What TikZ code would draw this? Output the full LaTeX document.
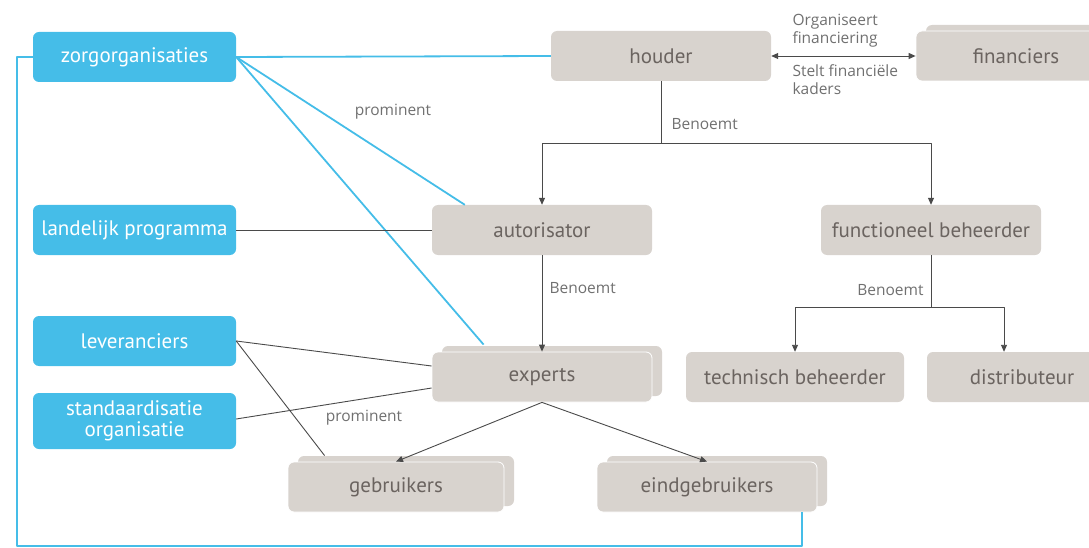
\documentclass[tikz,border=0pt]{standalone}
\usepackage{fontspec}
\setmainfont{PT Sans}
\newfontfamily\lblfont{Open Sans}
\usetikzlibrary{shadows,arrows.meta}
\definecolor{zorgblue}{HTML}{45BDE8}
\definecolor{boxgray}{HTML}{D8D3CE}
\definecolor{txtgray}{HTML}{6B6460}
\definecolor{lblgray}{HTML}{707070}
\definecolor{linegray}{HTML}{4A4A4A}
\begin{document}
\begin{tikzpicture}[x=1pt,y=-1pt,>={Triangle[length=7pt,width=6pt]},line join=round,
	rol/.style={fill=boxgray,rounded corners=6pt,minimum width=220pt,minimum height=50pt,inner sep=0pt,text=txtgray,font=\fontsize{21}{23}\selectfont},
	groep/.style={draw=white,line width=0.8pt,copy shadow={shadow xshift=10pt,shadow yshift=6pt,draw=none,fill=boxgray}},
	partij/.style={fill=zorgblue,rounded corners=6pt,minimum width=203pt,minimum height=50pt,inner sep=0pt,text=white,align=center,font=\fontsize{21}{23}\selectfont},
	lbl/.style={text=lblgray,align=left,font=\lblfont\fontsize{15.5}{18}\selectfont},
	lijn/.style={draw=linegray,line width=0.9pt},
	blauw/.style={draw=zorgblue,line width=1.8pt}]
	\useasboundingbox (0,0) rectangle (1089,548);
	% belanghebbenden
	\node[partij] (zorg) at (134.5,57) {zorgorganisaties};
	\node[partij] (landelijk) at (134.5,230) {landelijk programma};
	\node[partij] (lev) at (134.5,341) {leveranciers};
	\node[partij,minimum height=56pt,font=\fontsize{21}{21}\selectfont] (std) at (134.5,421) {standaardisatie\\organisatie};
	% rollen
	\node[rol] (houder) at (661,56) {houder};
	\node[rol,groep,minimum width=200pt] (fin) at (1016,56) {financiers};
	\node[rol] (aut) at (542,230) {autorisator};
	\node[rol] (fb) at (931,230) {functioneel beheerder};
	\node[rol,groep] (exp) at (542,377) {experts};
	\node[rol,minimum width=218pt] (tb) at (795,377) {technisch beheerder};
	\node[rol,minimum width=190pt] (dist) at (1022,377) {distributeur};
	\node[rol,groep,minimum width=216pt] (geb) at (396,487) {gebruikers};
	\node[rol,groep] (eind) at (707,487) {eindgebruikers};
	% benoemingen
	\draw[lijn,<->] (houder) -- (fin);
	\node[lbl,anchor=south west] (org) at (789,51) {Organiseert\\financiering};
	\node[lbl,anchor=north west] (kaders) at (789,61) {Stelt financiële\\kaders};
	\draw[lijn,->] (houder.south) -- ++(0,62) -| (aut.north);
	\draw[lijn,->] (houder.south) -- ++(0,62) -| (fb.north);
	\node[lbl,anchor=west] (ben1) at (668,124) {Benoemt};
	\draw[lijn,->] (aut) -- (exp);
	\node[lbl,anchor=west] (ben2) at (546,288) {Benoemt};
	\draw[lijn,->] (fb.south) -- ++(0,52) -| (tb.north);
	\draw[lijn,->] (fb.south) -- ++(0,52) -| ([xshift=-18pt]dist.north);
	\node[lbl,anchor=east] (ben3) at (927,290) {Benoemt};
	\draw[lijn,->] (exp.south) -- (geb.north);
	\draw[lijn,->] (exp.south) -- (eind.north);
	% relaties
	\draw[blauw] (zorg.east) -- (houder.west);
	\draw[blauw] (zorg.east) -- ([xshift=33pt]aut.north west);
	\draw[blauw] (zorg.east) -- ([xshift=52pt,yshift=7pt]exp.north west);
	\draw[blauw] (zorg.west) -- ++(-16,0) -- ++(0,489) -| ([xshift=95pt]eind.south);
	\node[lbl] (prom1) at (393,112) {prominent};
	\draw[lijn] (landelijk) -- (aut);
	\draw[lijn] (lev.east) -- ([yshift=11pt]exp.west);
	\draw[lijn] (lev.east) -- ([xshift=37pt,yshift=6pt]geb.north west);
	\draw[lijn] ([yshift=2pt]std.east) -- ([yshift=-11pt]exp.west);
	\node[lbl] (prom2) at (364,418) {prominent};
\end{tikzpicture}
\end{document}
